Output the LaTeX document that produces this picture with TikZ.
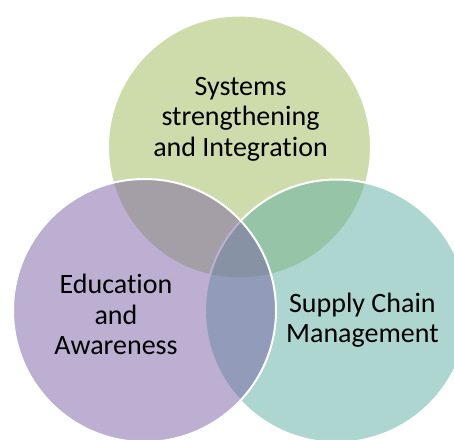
\documentclass[tikz,border=0pt]{standalone}
\usepackage{fontspec}
\setmainfont{Carlito}[Ligatures={NoCommon,NoContextual}]
\definecolor{cgreen}{RGB}{159,187,89}
\definecolor{cteal}{RGB}{93,175,163}
\definecolor{cpurple}{RGB}{123,97,165}
\begin{document}
\begin{tikzpicture}[x=1pt,y=-1pt,
  vcircle/.style={draw=white,line width=2pt,fill opacity=0.5,draw opacity=1},
  vlabel/.style={align=center,inner sep=0pt,font=\fontsize{28}{30.6}\selectfont,text=black}]
\useasboundingbox[fill=white] (0,0) rectangle (454,439);
\begin{scope}
\clip (0,0) rectangle (454,439);
\path[vcircle,fill=cgreen] (239.5,147) circle[radius=131.5];
\path[vcircle,fill=cteal] (336.5,311) circle[radius=131.5];
\path[vcircle,fill=cpurple] (144.5,310.5) circle[radius=131.5];
\end{scope}
\node[vlabel] (sys) at (240.5,119) {Systems\\strengthening\\and Integration};
\node[vlabel] (edu) at (116,314.5) {Education\\and\\Awareness};
\node[vlabel] (scm) at (362.4,320) {Supply Chain\\Management};
\end{tikzpicture}
\end{document}
